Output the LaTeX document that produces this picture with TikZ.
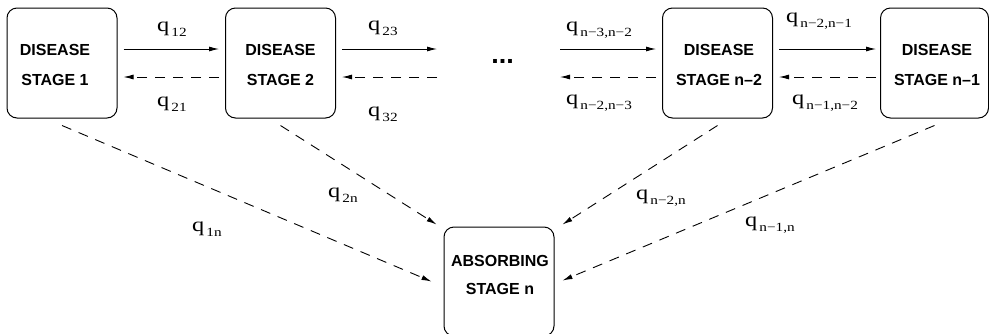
\documentclass[tikz,border=0pt]{standalone}
\usepackage{fontspec}
\setmainfont{Liberation Serif}
\newfontfamily\boxfont{Liberation Sans}
\newfontfamily\ratefont[FakeStretch=1.22]{Liberation Serif}
\usetikzlibrary{arrows.meta}

% transition rate label: q with a lowered subscript
\newcommand\rate[1]{{\fontsize{20}{20}\ratefont q}\kern2pt\raisebox{-5pt}{\fontsize{12.5}{12.5}\ratefont #1}}

\begin{document}
\begin{tikzpicture}[x=1pt,y=-1pt,
  stagebox/.style={draw, line width=1pt, rounded corners=10pt,
    minimum width=110pt, minimum height=110pt, inner sep=0pt},
  stagetext/.style={align=center, inner sep=0pt,
    font={\fontsize{16}{30}\boxfont\bfseries}},
  fwd/.style={line width=0.9pt, -{Latex[length=10pt,width=5pt]}},
  back/.style={line width=0.9pt, dash pattern=on 10pt off 8pt,
    -{Latex[length=10pt,width=5pt]}},
  ratelabel/.style={anchor=base west, inner sep=0pt}]

\clip (0,0) rectangle (989,333);
\useasboundingbox (0,0) rectangle (989,333);

% stage boxes
\node[stagebox] (b1)  at (62,63)    {};
\node[stagebox] (b2)  at (280.5,63) {};
\node[stagebox] (bm)  at (717.5,63) {};
\node[stagebox, minimum width=108pt] (bl) at (934.5,63) {};
\node[stagebox, minimum height=109pt] (bn) at (499,281.5) {};

% box captions
\node[stagetext] (t1) at (55,65)    {DISEASE\\STAGE 1};
\node[stagetext] (t2) at (280.5,65) {DISEASE\\STAGE 2};
\node[stagetext] (tm) at (719,65)   {DISEASE\\STAGE n–2};
\node[stagetext] (tl) at (937,65)   {DISEASE\\STAGE n–1};
\node[stagetext, font={\fontsize{16}{28}\boxfont\bfseries}] (tn) at (500,275)
  {ABSORBING\\STAGE n};

% the omitted middle stages
\node[inner sep=0pt, anchor=base, font={\fontsize{27}{27}\boxfont\bfseries}] (dots) at (502.5,63) {...};
\coordinate (gapL) at (437,63);
\coordinate (gapR) at (560,63);

% forward transitions
\draw[fwd] ([xshift=6pt,yshift=14pt]b1.east) -- ([xshift=-6pt,yshift=14pt]b2.west);
\draw[fwd] ([xshift=6pt,yshift=14pt]b2.east) -- ([yshift=14pt]gapL);
\draw[fwd] ([yshift=14pt]gapR) -- ([xshift=-6pt,yshift=14pt]bm.west);
\draw[fwd] ([xshift=6pt,yshift=14pt]bm.east) -- ([xshift=-4pt,yshift=14pt]bl.west);

% backward transitions
\draw[back] ([xshift=-6pt,yshift=-14pt]b2.west) -- ([xshift=6pt,yshift=-14pt]b1.east);
\draw[back] ([yshift=-14pt]gapL) -- ([xshift=6pt,yshift=-14pt]b2.east);
\draw[back] ([xshift=-6pt,yshift=-14pt]bm.west) -- ([yshift=-14pt]gapR);
\draw[back] ([xshift=-4pt,yshift=-14pt]bl.west) -- ([xshift=6pt,yshift=-14pt]bm.east);

% absorption
\draw[back] ([yshift=-7pt]b1.south) -- ([xshift=-12pt]bn.west);
\draw[back] ([yshift=-7pt]b2.south) -- ([shift={(-7pt,2pt)}]bn.north west);
\draw[back] ([yshift=-7pt]bm.south) -- ([shift={(8pt,2pt)}]bn.north east);
\draw[back] ([yshift=-7pt]bl.south) -- ([shift={(8pt,1pt)}]bn.east);

% rate labels
\node[ratelabel] (q12) at (157,31)   {\rate{12}};
\node[ratelabel] (q21) at (157,106)  {\rate{21}};
\node[ratelabel] (q23) at (368,30)   {\rate{23}};
\node[ratelabel] (q32) at (368,116)  {\rate{32}};
\node[ratelabel] (qa)  at (566,31)   {\rate{n−3,n−2}};
\node[ratelabel] (qb)  at (566,104.5){\rate{n−2,n−3}};
\node[ratelabel] (qc)  at (786,22)   {\rate{n−2,n−1}};
\node[ratelabel] (qd)  at (792,104.5){\rate{n−1,n−2}};
\node[ratelabel] (q1n) at (192,231.5){\rate{1n}};
\node[ratelabel] (q2n) at (328,197.5){\rate{2n}};
\node[ratelabel] (qe)  at (636,199)  {\rate{n−2,n}};
\node[ratelabel] (qf)  at (745,226)  {\rate{n−1,n}};
\end{tikzpicture}
\end{document}
